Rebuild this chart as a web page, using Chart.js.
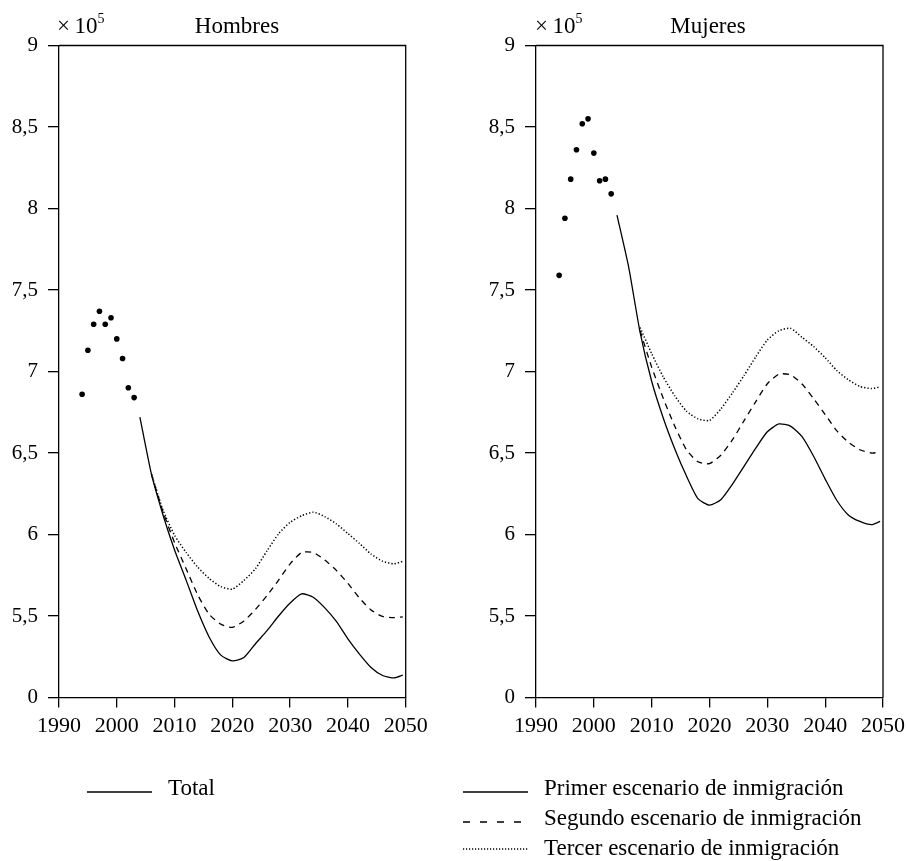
<!DOCTYPE html>
<html>
<head>
<meta charset="utf-8">
<script src="https://cdn.jsdelivr.net/npm/chart.js@4.4.1/dist/chart.umd.min.js"></script>
<style>
html,body{margin:0;padding:0;background:#fff;}
#wrap{position:relative;width:907px;height:861px;overflow:hidden;font-family:"Liberation Serif",serif;color:#000;}
.cv{position:absolute;top:0;}
.txt{position:absolute;font-size:23px;line-height:1;white-space:nowrap;}
.ttl{width:200px;text-align:center;}
sup{font-size:14px;position:relative;top:-2px;vertical-align:top;}
svg{position:absolute;left:0;top:0;}
</style>
</head>
<body>
<div id="wrap">
  <div class="cv" style="left:0"><canvas id="c1" width="453" height="760"></canvas></div>
  <div class="cv" style="left:453px"><canvas id="c2" width="474" height="760"></canvas></div>

  <div class="txt" style="left:57px;top:14px">×&thinsp;10<sup>5</sup></div>
  <div class="txt ttl" style="left:137px;top:14px">Hombres</div>
  <div class="txt" style="left:535px;top:14px">×&thinsp;10<sup>5</sup></div>
  <div class="txt ttl" style="left:608px;top:14px">Mujeres</div>

  <svg width="907" height="861">
    <line x1="87" y1="792" x2="152" y2="792" stroke="#000" stroke-width="1.3"/>
    <line x1="463" y1="792" x2="528" y2="792" stroke="#000" stroke-width="1.3"/>
    <line x1="463" y1="822" x2="528" y2="822" stroke="#000" stroke-width="1.3" stroke-dasharray="7,10"/>
    <line x1="463" y1="849" x2="528" y2="849" stroke="#000" stroke-width="1.4" stroke-dasharray="1.2,1.8"/>
  </svg>
  <div class="txt" style="left:168px;top:776px">Total</div>
  <div class="txt" style="left:544px;top:776px">Primer escenario de inmigración</div>
  <div class="txt" style="left:544px;top:806px">Segundo escenario de inmigración</div>
  <div class="txt" style="left:544px;top:836px">Tercer escenario de inmigración</div>
</div>

<script>
// ---------- data (values ×10^5) ----------
const xTickLabels = ['1990','2000','2010','2020','2030','2040','2050'];
const yTickLabels = ['0','5,5','6','6,5','7','7,5','8','8,5','9'];

const histYears = [1994,1995,1996,1997,1998,1999,2000,2001,2002,2003];
const hombresTotal = [6.86,7.13,7.29,7.37,7.29,7.33,7.20,7.08,6.90,6.84];
const mujeresTotal = [7.59,7.94,8.18,8.36,8.52,8.55,8.34,8.17,8.18,8.09];

const projYears = [2004,2006,2008,2010,2012,2014,2016,2018,2020,2022,2024,2026,2028,2030,2032,2034,2036,2038,2040,2042,2044,2046,2048,2049.5];

const hombresPrimer  = [6.72,6.37,6.12,5.905,5.72,5.53,5.37,5.26,5.225,5.245,5.33,5.41,5.50,5.58,5.636,5.615,5.55,5.467,5.36,5.266,5.184,5.135,5.12,5.137];
const hombresSegundo = [null,6.37,6.14,5.95,5.79,5.63,5.51,5.45,5.43,5.47,5.54,5.625,5.72,5.82,5.89,5.89,5.843,5.78,5.70,5.61,5.537,5.497,5.49,5.495];
const hombresTercer  = [null,6.37,6.15,5.995,5.89,5.80,5.73,5.68,5.665,5.718,5.79,5.90,6.004,6.075,6.115,6.137,6.11,6.065,6.006,5.945,5.88,5.836,5.82,5.836];

const mujeresPrimer  = [7.96,7.645,7.24,6.94,6.715,6.525,6.36,6.22,6.18,6.215,6.31,6.42,6.53,6.63,6.678,6.665,6.60,6.48,6.34,6.21,6.12,6.08,6.06,6.08];
const mujeresSegundo = [null,null,7.25,7.027,6.836,6.664,6.521,6.446,6.435,6.488,6.583,6.70,6.815,6.925,6.984,6.98,6.923,6.833,6.736,6.637,6.567,6.52,6.50,6.505];
const mujeresTercer  = [null,null,7.27,7.11,6.967,6.85,6.757,6.71,6.70,6.772,6.87,6.977,7.09,7.193,7.25,7.265,7.21,7.153,7.085,7.006,6.95,6.908,6.895,6.905];

// ---------- drawing ----------
const framePlugin = {
  id: 'frame',
  afterDraw(chart) {
    const { ctx, chartArea: a } = chart;
    ctx.save();
    ctx.strokeStyle = '#000';
    ctx.lineWidth = 1.3;
    ctx.beginPath();
    ctx.moveTo(a.left, a.top);
    ctx.lineTo(a.right, a.top);
    ctx.lineTo(a.right, a.bottom);
    ctx.stroke();
    ctx.restore();
  }
};

function pts(xs, ys) {
  return xs.map((x, i) => ({ x: x, y: ys[i] }));
}

function makeChart(id, total, p1, p2, p3, yWidth, padRight) {
  const lineBase = { borderColor: '#000', pointRadius: 0, tension: 0.2, fill: false, spanGaps: false };
  return new Chart(document.getElementById(id), {
    type: 'line',
    data: {
      datasets: [
        { label: 'Total', data: pts(histYears, total), showLine: false,
          pointRadius: 2.8, pointBackgroundColor: '#000', pointBorderWidth: 0, borderColor: '#000' },
        Object.assign({ label: 'Primer escenario de inmigración', data: pts(projYears, p1), borderWidth: 1.3 }, lineBase),
        Object.assign({ label: 'Segundo escenario de inmigración', data: pts(projYears, p2), borderWidth: 1.3, borderDash: [6, 5] }, lineBase),
        Object.assign({ label: 'Tercer escenario de inmigración', data: pts(projYears, p3), borderWidth: 1.5, borderDash: [1.3, 2] }, lineBase)
      ]
    },
    options: {
      responsive: false,
      animation: false,
      layout: { padding: { top: 45.5, right: padRight, left: 0, bottom: 0 } },
      plugins: { legend: { display: false }, tooltip: { enabled: false }, title: { display: false } },
      scales: {
        x: {
          type: 'linear', min: 1990, max: 2050,
          ticks: { stepSize: 10, color: '#000', maxRotation: 0, padding: 6,
                   font: { family: 'Liberation Serif', size: 22 },
                   callback: (v, i) => xTickLabels[i] },
          grid: { drawOnChartArea: false, drawTicks: true, tickLength: 10, color: '#000', lineWidth: 1.3 },
          border: { display: true, color: '#000', width: 1.3 },
          afterFit(s) { s.height = 62.5; }
        },
        y: {
          type: 'linear', min: 5, max: 9,
          ticks: { stepSize: 0.5, color: '#000', padding: 10,
                   font: { family: 'Liberation Serif', size: 21 },
                   callback: (v, i) => yTickLabels[i] },
          grid: { drawOnChartArea: false, drawTicks: true, tickLength: 11, color: '#000', lineWidth: 1.3 },
          border: { display: true, color: '#000', width: 1.3 },
          afterFit(s) { s.width = yWidth; }
        }
      }
    },
    plugins: [framePlugin]
  });
}

makeChart('c1', hombresTotal, hombresPrimer, hombresSegundo, hombresTercer, 59, 47.3);
makeChart('c2', mujeresTotal, mujeresPrimer, mujeresSegundo, mujeresTercer, 83, 44);
</script>
</body>
</html>
